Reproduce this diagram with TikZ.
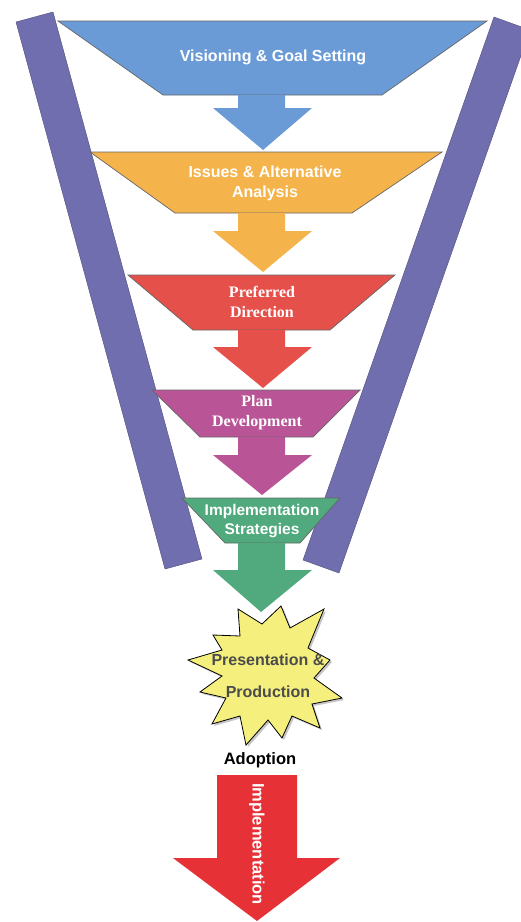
\documentclass[tikz,border=0pt]{standalone}
\usepackage{fontspec}
\setmainfont{Liberation Serif}
\setsansfont{Liberation Sans}
\usetikzlibrary{shadows}
\definecolor{bar}{HTML}{706EAF}
\definecolor{vision}{HTML}{6B9BD7}
\definecolor{issues}{HTML}{F5B44B}
\definecolor{prefer}{HTML}{E6504B}
\definecolor{plan}{HTML}{B95596}
\definecolor{strat}{HTML}{50AA7D}
\definecolor{burst}{HTML}{F5F07D}
\definecolor{impl}{HTML}{E63237}

\begin{document}
\begin{tikzpicture}[x=1pt, y=-1pt,
    edge/.style={draw=black!60, line width=0.7pt},
    sanslbl/.style={text=white, align=center, font=\sffamily\bfseries\fontsize{16}{20}\selectfont},
    seriflbl/.style={text=white, align=center, font=\rmfamily\bfseries\fontsize{16}{20}\selectfont}]
    \useasboundingbox (0,0) rectangle (521,922);
    %the side bars
    \filldraw[fill=bar, draw=bar!70!black] (16,22) -- (53,12) -- (202,559) -- (165,569) -- cycle;
    \filldraw[fill=bar, draw=bar!70!black] (494,17) -- (530,30) -- (339,573) -- (303,560) -- cycle;
    %the stages
    \filldraw[fill=vision, edge] (58,21) -- (487,21) -- (382,95) -- (163,95) -- cycle;
    \filldraw[fill=issues, edge] (90,152) -- (442,152) -- (352,213) -- (175,213) -- cycle;
    \filldraw[fill=prefer, edge] (128,275) -- (395,275) -- (330,330) -- (193,330) -- cycle;
    \filldraw[fill=plan, edge] (152,390) -- (360,390) -- (313,437) -- (200,437) -- cycle;
    \filldraw[fill=strat, edge] (182,498) -- (340,498) -- (300,543) -- (225,543) -- cycle;
    %the arrows between
    \fill[vision] (238,95) -- (285,95) -- (285,108) -- (312,108) -- (263,150) -- (213,108) -- (238,108) -- cycle;
    \fill[issues] (238,213) -- (285,213) -- (285,231) -- (312,231) -- (263,272) -- (213,231) -- (238,231) -- cycle;
    \fill[prefer] (238,330) -- (285,330) -- (285,347) -- (312,347) -- (263,388) -- (213,347) -- (238,347) -- cycle;
    \fill[plan] (238,437) -- (285,437) -- (285,455) -- (312,455) -- (262,495) -- (213,455) -- (238,455) -- cycle;
    \fill[strat] (238,543) -- (285,543) -- (285,570) -- (312,570) -- (261,612) -- (213,570) -- (238,570) -- cycle;
    %the burst
    \filldraw[fill=burst, draw=black, line width=0.8pt,
        drop shadow={shadow xshift=2pt, shadow yshift=-2pt, opacity=0.45}]
        (238,609) -- (262,624) -- (281,606) -- (290,628) -- (324,609) -- (308,648)
        -- (330,660) -- (314,678) -- (342,698) -- (312,704) -- (320,728) -- (292,716)
        -- (282,738) -- (268,720) -- (246,745) -- (240,716) -- (212,724) -- (226,698)
        -- (200,692) -- (222,676) -- (188,660) -- (222,650) -- (213,635) -- (240,636) -- cycle;
    %the last arrow
    \fill[impl] (217,775) -- (297,775) -- (297,858) -- (340,858) -- (257,921) -- (173,858) -- (217,858) -- cycle;
    %the labels
    \node[sanslbl] (visiontxt) at (273,57) {Visioning \& Goal Setting};
    \node[sanslbl] (issuestxt) at (265,183) {Issues \& Alternative\\Analysis};
    \node[seriflbl] (prefertxt) at (262,302) {Preferred\\Direction};
    \node[seriflbl] (plantxt) at (257,413) {Plan\\Development};
    \node[sanslbl, font=\sffamily\bfseries\fontsize{15.5}{19}\selectfont] (strattxt) at (262,521) {Implementation\\Strategies};
    \node[sanslbl, text=black!70, font=\sffamily\bfseries\fontsize{16}{32}\selectfont] (bursttxt) at (268,676) {Presentation \&\\Production};
    \node[sanslbl, text=black, font=\sffamily\bfseries\fontsize{16.5}{20}\selectfont] (adopttxt) at (260,760) {Adoption};
    \node[sanslbl, rotate=-90, font=\sffamily\bfseries\fontsize{16.5}{20}\selectfont] (impltxt) at (257,844) {Implementation};
\end{tikzpicture}
\end{document}
